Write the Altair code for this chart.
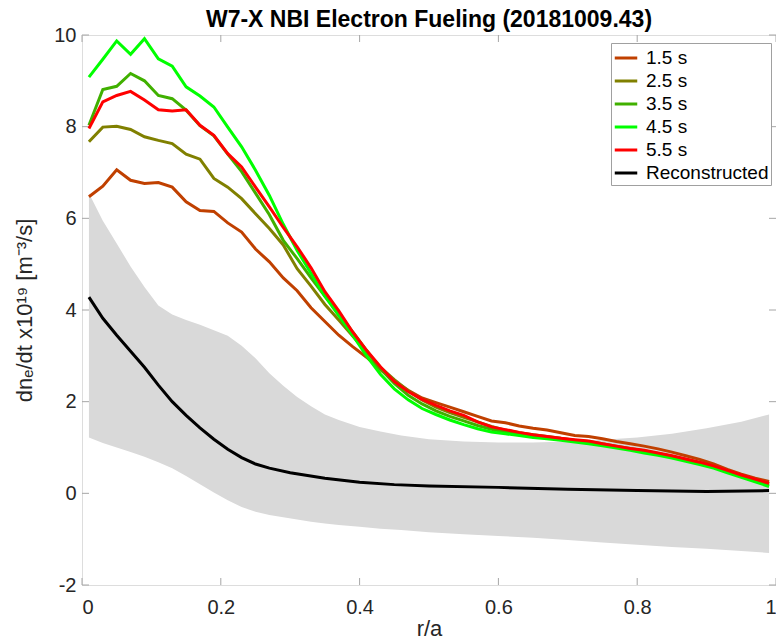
import altair as alt
import pandas as pd

# ---------------- data ----------------
r_grid = [0.01, 0.03, 0.05, 0.07, 0.09, 0.11, 0.13, 0.15, 0.17, 0.19,
          0.21, 0.23, 0.25, 0.27, 0.29, 0.31, 0.33, 0.35, 0.37, 0.39,
          0.41, 0.43, 0.45, 0.47, 0.49, 0.51, 0.53, 0.55, 0.57, 0.59,
          0.61, 0.63, 0.65, 0.67, 0.69, 0.71, 0.73, 0.75, 0.77, 0.79,
          0.81, 0.83, 0.85, 0.87, 0.89, 0.91, 0.93, 0.95, 0.97, 0.99]

t15 = [6.47, 6.70, 7.06, 6.83, 6.76, 6.78, 6.68, 6.36, 6.17, 6.15,
       5.90, 5.70, 5.33, 5.05, 4.70, 4.42, 4.05, 3.75, 3.45, 3.20,
       2.97, 2.70, 2.45, 2.25, 2.08, 1.98, 1.88, 1.78, 1.68, 1.58,
       1.54, 1.47, 1.42, 1.38, 1.32, 1.26, 1.24, 1.19, 1.13, 1.08,
       1.03, 0.97, 0.90, 0.82, 0.74, 0.64, 0.52, 0.42, 0.33, 0.26]

t25 = [7.67, 7.99, 8.01, 7.94, 7.78, 7.70, 7.63, 7.40, 7.29, 6.87,
       6.68, 6.43, 6.10, 5.78, 5.42, 4.90, 4.52, 4.12, 3.78, 3.43,
       3.08, 2.75, 2.48, 2.24, 2.04, 1.88, 1.76, 1.66, 1.56, 1.46,
       1.38, 1.32, 1.28, 1.24, 1.20, 1.16, 1.13, 1.08, 1.03, 0.98,
       0.93, 0.87, 0.81, 0.74, 0.67, 0.59, 0.49, 0.39, 0.30, 0.21]

t35 = [8.03, 8.81, 8.88, 9.16, 9.00, 8.68, 8.61, 8.36, 8.02, 7.80,
       7.40, 7.02, 6.55, 6.08, 5.52, 5.12, 4.70, 4.30, 3.92, 3.52,
       3.12, 2.72, 2.40, 2.14, 1.95, 1.80, 1.68, 1.58, 1.48, 1.40,
       1.34, 1.29, 1.25, 1.21, 1.18, 1.14, 1.10, 1.06, 1.01, 0.96,
       0.90, 0.85, 0.79, 0.72, 0.65, 0.57, 0.47, 0.37, 0.27, 0.18]

t45 = [9.08, 9.47, 9.87, 9.58, 9.92, 9.48, 9.32, 8.87, 8.67, 8.43,
       7.99, 7.56, 7.05, 6.50, 5.87, 5.30, 4.80, 4.30, 3.88, 3.45,
       3.00, 2.60, 2.28, 2.04, 1.85, 1.72, 1.60, 1.50, 1.41, 1.34,
       1.30, 1.26, 1.22, 1.19, 1.16, 1.12, 1.08, 1.04, 0.99, 0.94,
       0.88, 0.83, 0.77, 0.70, 0.63, 0.55, 0.45, 0.35, 0.25, 0.15]

t55 = [7.96, 8.54, 8.68, 8.77, 8.58, 8.37, 8.34, 8.37, 8.03, 7.81,
       7.41, 7.12, 6.68, 6.25, 5.80, 5.38, 4.92, 4.40, 3.98, 3.52,
       3.12, 2.76, 2.44, 2.22, 2.05, 1.92, 1.80, 1.70, 1.56, 1.45,
       1.39, 1.33, 1.28, 1.24, 1.20, 1.17, 1.14, 1.08, 1.03, 0.98,
       0.94, 0.88, 0.82, 0.75, 0.68, 0.60, 0.50, 0.40, 0.31, 0.22]

rec_r = [0.01, 0.03, 0.05, 0.07, 0.09, 0.11, 0.13, 0.15, 0.17, 0.19,
         0.21, 0.23, 0.25, 0.27, 0.30, 0.35, 0.40, 0.45, 0.50, 0.60,
         0.70, 0.80, 0.90, 0.99]
rec_v = [4.28, 3.82, 3.45, 3.10, 2.75, 2.36, 2.00, 1.70, 1.43, 1.18,
         0.96, 0.78, 0.64, 0.55, 0.45, 0.33, 0.24, 0.19, 0.16, 0.13,
         0.09, 0.06, 0.04, 0.06]

band_r = [0.01, 0.03, 0.05, 0.07, 0.09, 0.11, 0.13, 0.15, 0.17, 0.19,
          0.21, 0.23, 0.25, 0.27, 0.29, 0.31, 0.33, 0.35, 0.37, 0.40,
          0.43, 0.46, 0.50, 0.55, 0.60, 0.65, 0.70, 0.75, 0.80, 0.85,
          0.90, 0.95, 0.99]
band_hi = [6.55, 5.95, 5.45, 4.95, 4.50, 4.10, 3.90, 3.78, 3.68, 3.56,
           3.44, 3.22, 2.95, 2.62, 2.35, 2.10, 1.90, 1.72, 1.60, 1.45,
           1.35, 1.26, 1.18, 1.13, 1.11, 1.11, 1.13, 1.17, 1.22, 1.30,
           1.42, 1.56, 1.72]
band_lo = [1.22, 1.10, 1.00, 0.90, 0.80, 0.68, 0.55, 0.38, 0.20, 0.02,
           -0.15, -0.30, -0.40, -0.47, -0.52, -0.57, -0.62, -0.66, -0.69, -0.73,
           -0.77, -0.80, -0.85, -0.89, -0.93, -0.97, -1.02, -1.07, -1.12, -1.17,
           -1.21, -1.26, -1.30]

series_names = ["1.5 s", "2.5 s", "3.5 s", "4.5 s", "5.5 s", "Reconstructed"]
series_colors = ["#C04000", "#808000", "#40B000", "#00FF00", "#FF0000", "#000000"]

x_ticks = [0, 0.2, 0.4, 0.6, 0.8, 1]
y_ticks = [-2, 0, 2, 4, 6, 8, 10]

# ---------------- tables ----------------
rows = []
for name, vals in zip(series_names[:5], [t15, t25, t35, t45, t55]):
    for r, v in zip(r_grid, vals):
        rows.append({"r": r, "v": v, "series": name})
for r, v in zip(rec_r, rec_v):
    rows.append({"r": r, "v": v, "series": "Reconstructed"})
lines_df = pd.DataFrame(rows)

band_df = pd.DataFrame({"r": band_r, "lo": band_lo, "hi": band_hi})
xt_df = pd.DataFrame({"t": x_ticks})
yt_df = pd.DataFrame({"t": y_ticks})

W, H = 694, 550
FONT = "Liberation Sans"
TXT = "#262626"
AX = "#A6A6A6"

xs = alt.Scale(domain=[0, 1], nice=False, zero=False)
ys = alt.Scale(domain=[-2, 10], nice=False, zero=False)

x_axis = alt.Axis(values=x_ticks, labelExpr="'' + datum.value", domain=False,
                  ticks=False, grid=False, labelFontSize=20, labelColor=TXT,
                  labelPadding=12, title="r/a", titleFontSize=22,
                  titleFontWeight="normal", titleColor=TXT, titlePadding=1,
                  labelFont=FONT, titleFont=FONT)
y_axis = alt.Axis(values=y_ticks, labelExpr="'' + datum.value", domain=False,
                  ticks=False, grid=False, labelFontSize=20, labelColor=TXT,
                  labelPadding=6, title="dnₑ/dt x10¹⁹ [m⁻³/s]", titleFontSize=22,
                  titleFontWeight="normal", titleColor=TXT, titlePadding=17,
                  labelFont=FONT, titleFont=FONT)

band = alt.Chart(band_df).mark_area(color="#D9D9D9", opacity=1).encode(
    x=alt.X("r:Q", scale=xs, axis=x_axis),
    y=alt.Y("lo:Q", scale=ys, axis=y_axis),
    y2="hi:Q",
)

lines = alt.Chart(lines_df).mark_line(strokeWidth=3).encode(
    x=alt.X("r:Q", scale=xs),
    y=alt.Y("v:Q", scale=ys),
    color=alt.Color("series:N",
                    scale=alt.Scale(domain=series_names, range=series_colors),
                    legend=alt.Legend(title=None, orient="none", legendX=529, legendY=8,
                                      symbolType="stroke", symbolStrokeWidth=3,
                                      symbolSize=506, labelFontSize=19, labelFont=FONT,
                                      labelColor="#000000", labelOffset=7,
                                      rowPadding=0, padding=2,
                                      strokeColor="#A0A0A0", fillColor="#FFFFFF")),
    order=alt.Order("r:Q"),
)

tick_left = alt.Chart(yt_df).mark_rule(color=AX, strokeWidth=1).encode(
    y=alt.Y("t:Q", scale=ys), x=alt.value(0), x2=alt.value(7))
tick_right = alt.Chart(yt_df).mark_rule(color=AX, strokeWidth=1).encode(
    y=alt.Y("t:Q", scale=ys), x=alt.value(W), x2=alt.value(W - 7))
tick_bottom = alt.Chart(xt_df).mark_rule(color=AX, strokeWidth=1).encode(
    x=alt.X("t:Q", scale=xs), y=alt.value(H), y2=alt.value(H - 7))
tick_top = alt.Chart(xt_df).mark_rule(color=AX, strokeWidth=1).encode(
    x=alt.X("t:Q", scale=xs), y=alt.value(0), y2=alt.value(7))

chart = alt.layer(band, tick_left, tick_right, tick_bottom, tick_top, lines).properties(
    width=W, height=H,
    title=alt.TitleParams("W7-X NBI Electron Fueling (20181009.43)", fontSize=23,
                          fontWeight="bold", font=FONT, color="#000000",
                          anchor="middle", offset=8, dy=15),
    autosize=alt.AutoSizeParams(type="none"),
    padding={"left": 82, "top": 35, "right": 0, "bottom": 56},
).configure_view(stroke=AX, strokeWidth=1).configure(font=FONT, background="#FFFFFF")

chart.save("out.html", embed_options={"renderer": "svg", "actions": False})
